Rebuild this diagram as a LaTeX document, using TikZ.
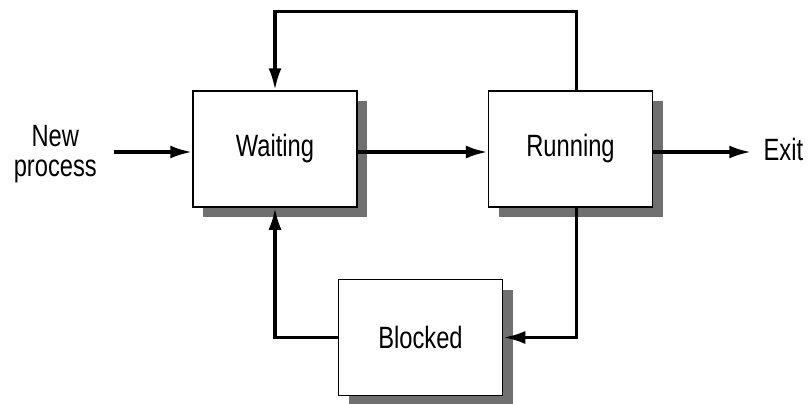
\documentclass[tikz,border=0pt]{standalone}
\usepackage{fontspec}
\setmainfont{Liberation Sans}[FakeStretch=0.77]
\usetikzlibrary{%
  positioning,
  arrows.meta,
  shadows
}
\tikzstyle{block} = [draw, fill=white, rectangle, line width=0.75pt, minimum height=58pt, minimum width=82pt, drop shadow={shadow xshift=5pt, shadow yshift=-5pt, fill=black!56, opacity=1}]
\tikzstyle{input} = [coordinate]
\tikzstyle{output} = [coordinate]
\tikzstyle{plain} = [inner sep=0pt, align=center]
\tikzstyle{flow} = [->, line width=1.75pt]
\begin{document}
\begin{tikzpicture}[auto, font=\fontsize{15.4pt}{15pt}\selectfont, node distance=65pt, >={Latex[length=11pt,width=6.5pt]}]
        \useasboundingbox (0,0) rectangle (405pt,-201.5pt);
        \node[block] (block1) at (137.5pt,-74.5pt) {Waiting};
        \node[block, right=of block1] (block2) {Running};
        \node[block, below right=35.5pt and -10pt of block1] (block3) {Blocked};
        \node[input, left=39pt of block1, yshift=-1.5pt] (input1) {};
        \node[plain, left=8.5pt of input1, yshift=-1pt] (text1) {New\\process};
        \node[output, right=49pt of block2, yshift=-1.5pt] (output1) {};
        \node[plain, right=6pt of output1, yshift=1.5pt] (text2) {Exit};
        \coordinate[above=39.5pt of block2.north, xshift=3pt] (top1);
        \draw[flow] (input1) -- (input1 -| block1.west);
        \draw[flow] (input1 -| block1.east) -- (input1 -| block2.west);
        \draw[flow] (input1 -| block2.east) -- (output1);
        \draw[flow] ([xshift=3pt]block2.north) -- (top1) -| (block1.north);
        \draw[flow] ([xshift=3pt]block2.south) |- (block3.east);
        \draw[flow] (block3.west) -| (block1.south);
      \end{tikzpicture}
\end{document}
